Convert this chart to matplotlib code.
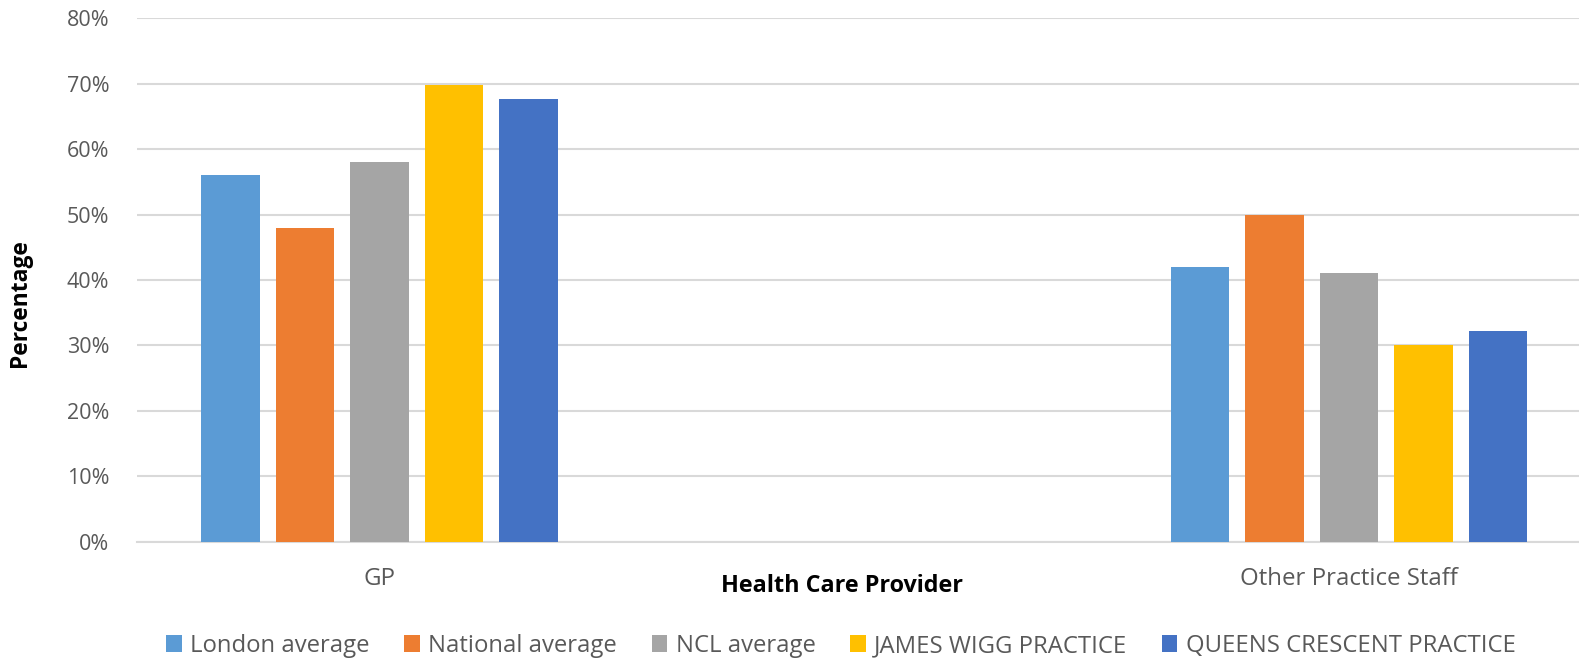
import matplotlib.pyplot as plt
import numpy as np
from matplotlib.ticker import PercentFormatter

# who patients saw, by provider type
providers = ['GP', 'Other Practice Staff']
series = ['London average', 'National average', 'NCL average',
          'JAMES WIGG PRACTICE', 'QUEENS CRESCENT PRACTICE']
london = [56, 42]
national = [48, 50]
ncl = [58, 41]
james_wigg = [69.8, 30.1]
queens_crescent = [67.7, 32.2]
colours = ['#5B9BD5', '#ED7D31', '#A5A5A5', '#FFC000', '#4472C4']

plt.rcParams['font.family'] = ['Open Sans', 'DejaVu Sans']

fig = plt.figure(figsize=(15.79, 6.64), dpi=100)
ax = fig.add_axes([0.0868, 0.1842, 0.9132, 0.7882])

x = np.arange(len(providers))
width = 0.0603
step = 0.0768
for i, (vals, name, col) in enumerate(zip(
        [london, national, ncl, james_wigg, queens_crescent], series, colours)):
    ax.bar(x + (i - 2) * step, vals, width, color=col, label=name, zorder=3)

ax.set_xlim(-0.2501, 1.2372)
ax.set_ylim(0, 80)
ax.set_yticks(range(0, 81, 10))
ax.yaxis.set_major_formatter(PercentFormatter(decimals=0))
ax.set_xticks(x)
ax.set_xticklabels(providers)

ax.grid(axis='y', color='#D9D9D9', linewidth=1.5, zorder=0)
for side in ['top', 'right', 'left']:
    ax.spines[side].set_visible(False)
ax.spines['bottom'].set_color('#D9D9D9')
ax.spines['bottom'].set_linewidth(1.5)
ax.tick_params(axis='both', length=0, colors='#595959')
ax.tick_params(axis='y', pad=20, labelsize=15.5)
ax.tick_params(axis='x', pad=18, labelsize=17.3)

fig.text(842 / 1579, 1 - 586 / 664, 'Health Care Provider', ha='center', va='center',
         fontsize=16.8, fontweight='bold', color='black')
fig.text(20 / 1579, 1 - 303 / 664, 'Percentage', ha='center', va='center',
         rotation=90, fontsize=16.4, fontweight='bold', color='black')

leg = fig.legend(loc='center', bbox_to_anchor=(841 / 1579, 1 - 646 / 664), ncol=5,
                 frameon=False, fontsize=17.2, handlelength=0.65, handleheight=0.75,
                 handletextpad=0.35, columnspacing=1.45)
for t in leg.get_texts():
    t.set_color('#595959')

fig.savefig('out.png', dpi=100)
